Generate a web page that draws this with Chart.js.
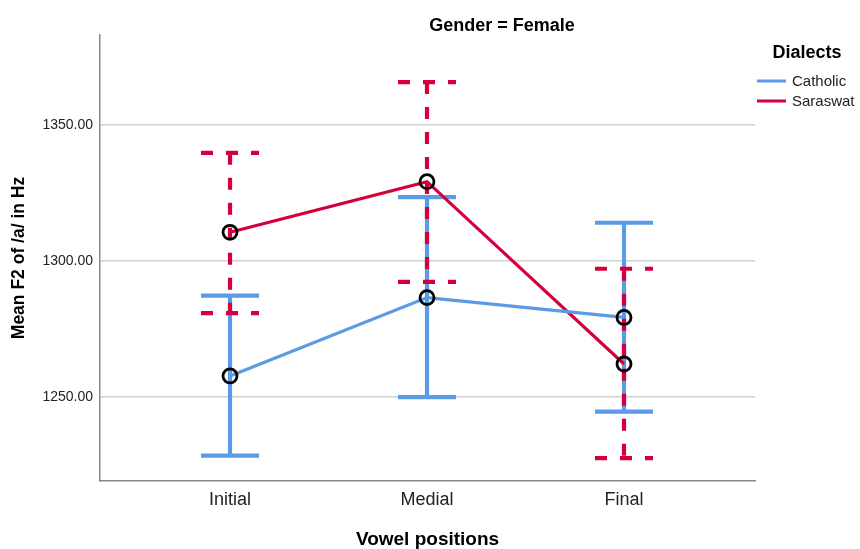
<!DOCTYPE html>
<html>
<head>
<meta charset="utf-8">
<script src="https://cdn.jsdelivr.net/npm/chart.js@4.4.0/dist/chart.umd.min.js"></script>
<style>
  html, body { margin: 0; padding: 0; background: #ffffff; }
  #wrap { width: 860px; height: 549px; }
</style>
</head>
<body>
<div id="wrap"><canvas id="chart" width="860" height="549"></canvas></div>
<script>
// Vowel positions on the x axis
const categories = ['Initial', 'Medial', 'Final'];

// Mean F2 of /a/ (Hz) with 95% CI bounds, per dialect
const catholicMean  = [1257.8, 1286.6, 1279.3];
const catholicUpper = [1287.3, 1323.5, 1314.1];
const catholicLower = [1228.5, 1250.0, 1244.7];

const saraswatMean  = [1310.6, 1329.2, 1262.2];
const saraswatUpper = [1339.8, 1365.8, 1297.2];
const saraswatLower = [1280.9, 1292.4, 1227.6];

const yTicks = [1250, 1300, 1350];

const BLUE = '#5a9ae6';
const RED = '#d5003b';
const FONT = "'Liberation Sans', Arial, sans-serif";

const series = [
  { label: 'Catholic', color: BLUE, mean: catholicMean, upper: catholicUpper, lower: catholicLower, dash: [] },
  { label: 'Saraswat', color: RED, mean: saraswatMean, upper: saraswatUpper, lower: saraswatLower, dash: [12, 13] }
];

// Error bars with caps, drawn underneath the mean lines and markers
const errorBars = {
  id: 'errorBars',
  beforeDatasetsDraw(chart) {
    const { ctx, scales } = chart;
    const xs = scales.x, ys = scales.y;
    const capHalf = 29;
    series.forEach(s => {
      ctx.save();
      ctx.strokeStyle = s.color;
      ctx.lineWidth = 4.2;
      ctx.lineCap = 'butt';
      ctx.setLineDash(s.dash);
      categories.forEach((c, i) => {
        const x = xs.getPixelForValue(i);
        const yHi = ys.getPixelForValue(s.upper[i]);
        const yLo = ys.getPixelForValue(s.lower[i]);
        ctx.beginPath();
        ctx.moveTo(x, yHi);
        ctx.lineTo(x, yLo);
        ctx.stroke();
        ctx.beginPath();
        ctx.moveTo(x - capHalf, yHi);
        ctx.lineTo(x + capHalf, yHi);
        ctx.stroke();
        ctx.beginPath();
        ctx.moveTo(x - capHalf, yLo);
        ctx.lineTo(x + capHalf, yLo);
        ctx.stroke();
      });
      ctx.restore();
    });
  }
};

// Panel heading and the dialect key at the right
const annotations = {
  id: 'annotations',
  afterDraw(chart) {
    const { ctx, chartArea } = chart;
    ctx.save();
    ctx.fillStyle = '#000';
    ctx.textBaseline = 'middle';
    ctx.textAlign = 'center';
    ctx.font = `bold 18px ${FONT}`;
    ctx.fillText('Gender = Female', chartArea.left + 402, 26);

    const lx = chartArea.right + 2;
    ctx.font = `bold 18px ${FONT}`;
    ctx.fillText('Dialects', lx + 50, 53);
    ctx.textAlign = 'left';
    ctx.font = `15px ${FONT}`;
    series.forEach((s, k) => {
      const y = 81 + k * 20;
      ctx.strokeStyle = s.color;
      ctx.lineWidth = 3;
      ctx.beginPath();
      ctx.moveTo(lx, y);
      ctx.lineTo(lx + 29, y);
      ctx.stroke();
      ctx.fillStyle = '#222';
      ctx.fillText(s.label, lx + 35, y + 1);
    });
    ctx.restore();
  }
};

const datasets = series.map(s => ({
  label: s.label,
  data: s.mean.map((v, i) => ({ x: i, y: v })),
  borderColor: s.color,
  borderWidth: 3.2,
  pointRadius: 7,
  pointHoverRadius: 7,
  pointBorderWidth: 2.8,
  pointBorderColor: '#000',
  pointBackgroundColor: 'rgba(0,0,0,0)',
  tension: 0,
  fill: false
}));

new Chart(document.getElementById('chart'), {
  type: 'line',
  data: { datasets },
  options: {
    responsive: false,
    animation: false,
    layout: { padding: { left: 0, top: 35, right: 105, bottom: 0 } },
    plugins: {
      legend: { display: false },
      title: { display: false },
      tooltip: { enabled: false }
    },
    scales: {
      x: {
        type: 'linear',
        min: -0.66,
        max: 2.665,
        afterBuildTicks: sc => { sc.ticks = categories.map((c, i) => ({ value: i })); },
        afterFit: sc => { sc.height = 68; },
        grid: { display: false, drawTicks: false },
        border: { display: true, color: '#888', width: 1.5 },
        ticks: {
          autoSkip: false,
          maxRotation: 0,
          padding: 8,
          color: '#222',
          font: { family: FONT, size: 18 },
          callback: v => categories[v]
        },
        title: {
          display: true,
          text: 'Vowel positions',
          color: '#000',
          font: { family: FONT, size: 19, weight: 'bold', lineHeight: 1 },
          padding: { top: 0, bottom: 0 }
        }
      },
      y: {
        min: 1219.2,
        max: 1383.1,
        afterBuildTicks: sc => { sc.ticks = yTicks.map(v => ({ value: v })); },
        afterFit: sc => { sc.width = 100; },
        grid: { color: '#d0d0d0', lineWidth: 1.5, drawTicks: false },
        border: { display: true, color: '#888', width: 1.5 },
        ticks: {
          padding: 7,
          color: '#222',
          font: { family: FONT, size: 14 },
          callback: v => Number(v).toFixed(2)
        },
        title: {
          display: true,
          text: 'Mean F2 of /a/ in Hz',
          color: '#000',
          font: { family: FONT, size: 17.5, weight: 'bold', lineHeight: 1.2 },
          padding: { top: 9, bottom: 0 }
        }
      }
    }
  },
  plugins: [errorBars, annotations]
});
</script>
</body>
</html>
